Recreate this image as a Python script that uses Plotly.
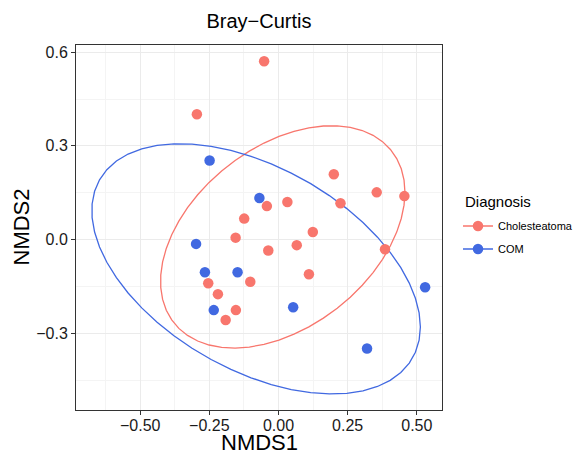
import numpy as np
import plotly.graph_objects as go

# ---- data ----
chol_x = [-0.052, -0.295, -0.124, -0.042, 0.032, -0.155, -0.037, 0.066, -0.254, -0.102,
          -0.219, -0.154, -0.191, 0.200, 0.355, 0.455, 0.224, 0.124, 0.385, 0.110]
chol_y = [0.571, 0.401, 0.067, 0.107, 0.120, 0.006, -0.035, -0.018, -0.140, -0.135,
          -0.175, -0.226, -0.258, 0.209, 0.151, 0.139, 0.116, 0.024, -0.031, -0.111]
com_x = [-0.249, -0.069, -0.298, -0.266, -0.148, -0.234, 0.053, 0.530, 0.320]
com_y = [0.253, 0.133, -0.014, -0.105, -0.105, -0.226, -0.217, -0.153, -0.349]

groups = ["Cholesteatoma", "COM"]
colors = {"Cholesteatoma": "#F8766D", "COM": "#4169E1"}
x_ticks = [-0.50, -0.25, 0.00, 0.25, 0.50]
y_ticks = [-0.3, 0.0, 0.3, 0.6]
ELLIPSE_LEVEL = 0.90


def cov_trob(x, nu=5, maxit=25, tol=0.01):
    n, p = x.shape
    wt = np.ones(n)
    loc = (wt[:, None] * x).sum(0) / wt.sum()
    w = np.sqrt(wt)
    X = x - loc
    for _ in range(maxit):
        w0 = w
        X = x - loc
        A = np.sqrt(w / w.sum())[:, None] * X
        _, d, vt = np.linalg.svd(A, full_matrices=False)
        wX = X @ vt.T @ np.diag(1 / d)
        Q = (wX ** 2).sum(1)
        w = (wt * (nu + p)) / (nu + Q)
        loc = (w[:, None] * x).sum(0) / w.sum()
        if np.all(np.abs(w - w0) < tol):
            break
    cov = (np.sqrt(w)[:, None] * X).T @ (np.sqrt(w)[:, None] * X) / wt.sum()
    return loc, cov


def ellipse(xs, ys, level=0.95, segments=51):
    pts = np.column_stack([xs, ys])
    n = len(xs)
    center, shape = cov_trob(pts)
    dfn, dfd = 2, n - 1
    qf = (dfd / 2) * ((1 - level) ** (-2 / dfd) - 1)
    radius = np.sqrt(dfn * qf)
    ang = np.arange(segments + 1) * 2 * np.pi / segments
    circ = np.column_stack([np.cos(ang), np.sin(ang)])
    ch = np.linalg.cholesky(shape).T
    e = center + radius * (circ @ ch)
    return e[:, 0], e[:, 1]


FONT = "Liberation Sans, Arial, sans-serif"
fig = go.Figure()
data = {"Cholesteatoma": (chol_x, chol_y), "COM": (com_x, com_y)}
for g in groups:
    xs, ys = data[g]
    ex, ey = ellipse(np.array(xs), np.array(ys), level=ELLIPSE_LEVEL)
    fig.add_trace(go.Scatter(x=ex, y=ey, mode="lines", line=dict(color=colors[g], width=1.3),
                             showlegend=False, hoverinfo="skip"))
for g in groups:
    xs, ys = data[g]
    fig.add_trace(go.Scatter(x=xs, y=ys, mode="markers", name=g, showlegend=False,
                             marker=dict(color=colors[g], size=10.5)))
# legend entries: line through marker (as in ggplot with ellipse layer)
for g in groups:
    fig.add_trace(go.Scatter(x=[None], y=[None], mode="lines+markers", name=g, legendgroup=g,
                             line=dict(color=colors[g], width=1.3),
                             marker=dict(color=colors[g], size=10.5)))

axis_common = dict(
    showline=True, linecolor="#333333", linewidth=1, mirror=True,
    showgrid=True, gridcolor="#EBEBEB", gridwidth=1,
    zeroline=False, ticks="outside", ticklen=4, tickcolor="#333333",
    tickfont=dict(family=FONT, size=16, color="#1a1a1a"),
)
PW, PH = 366, 365  # panel size in px (for paper-coordinate placement)
fig.update_layout(
    width=576, height=455,
    margin=dict(l=76, r=134, t=45, b=45, autoexpand=False),
    plot_bgcolor="white", paper_bgcolor="white",
    title=dict(text="Bray\u2212Curtis", x=(76 + 442) / 2 / 576, xanchor="center",
               y=1 - 20.5 / 455, yanchor="middle",
               font=dict(family=FONT, size=20, color="black")),
    xaxis=dict(axis_common, range=[-0.732, 0.591], tickvals=x_ticks, tickformat=".2f",
               ticklabelstandoff=-3,
               minor=dict(dtick=0.25, tick0=0.125, showgrid=True, gridcolor="#F4F4F4", ticks="")),
    yaxis=dict(axis_common, range=[-0.546, 0.623], tickvals=y_ticks, tickformat=".1f",
               minor=dict(dtick=0.3, tick0=0.15, showgrid=True, gridcolor="#F4F4F4", ticks="")),
    legend=dict(x=(458 - 76) / PW, xanchor="left", y=(410 - 211.5) / PH, yanchor="top",
                font=dict(family=FONT, size=11, color="black"),
                tracegroupgap=4, traceorder="grouped",
                bgcolor="rgba(0,0,0,0)"),
    annotations=[
        dict(text="NMDS1", xref="paper", yref="paper", x=0.5, y=(410 - 442.5) / PH,
             xanchor="center", yanchor="middle", showarrow=False,
             font=dict(family=FONT, size=22, color="black")),
        dict(text="NMDS2", xref="paper", yref="paper", x=(21 - 76) / PW, y=0.5,
             xanchor="center", yanchor="middle", showarrow=False, textangle=-90,
             font=dict(family=FONT, size=22, color="black")),
        dict(text="Diagnosis", xref="paper", yref="paper", x=(463 - 76) / PW, y=(410 - 201.5) / PH,
             xanchor="left", yanchor="middle", showarrow=False,
             font=dict(family=FONT, size=15, color="black")),
    ],
)
fig.write_html("out.html")
